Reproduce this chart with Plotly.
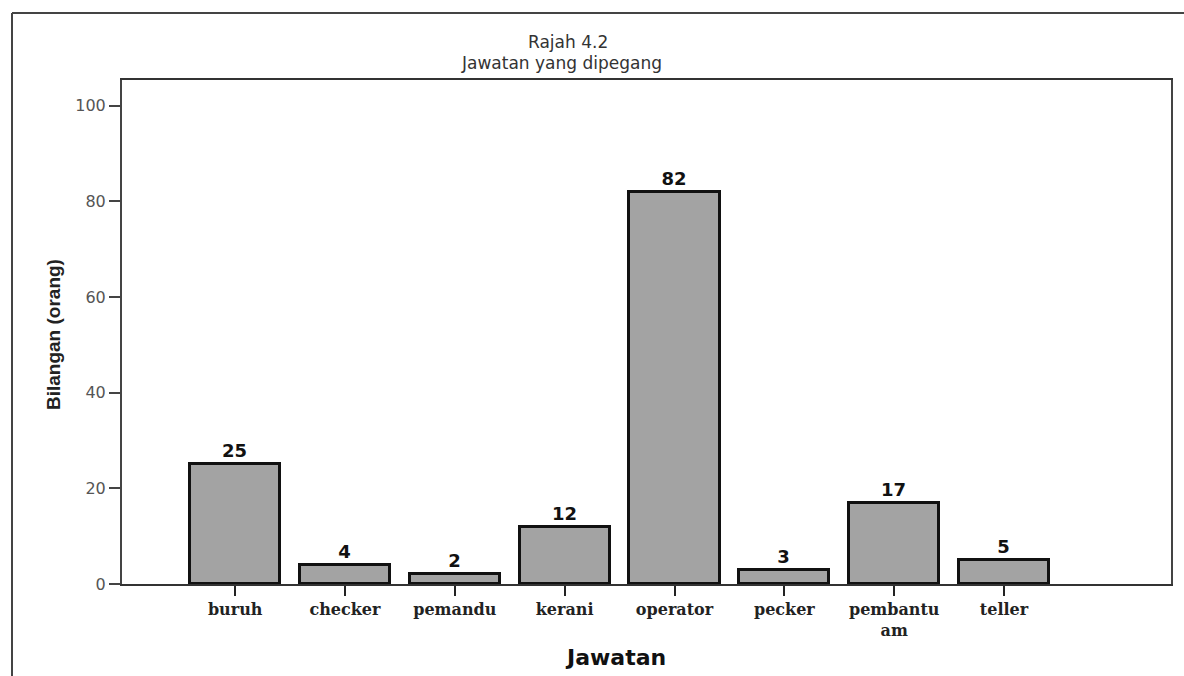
import plotly.graph_objects as go

categories = ["buruh", "checker", "pemandu", "kerani", "operator", "pecker", "pembantu am", "teller"]
tick_labels = ["buruh", "checker", "pemandu", "kerani", "operator", "pecker", "pembantu<br>am", "teller"]
values = [25, 4, 2, 12, 82, 3, 17, 5]
y_ticks = [0, 20, 40, 60, 80, 100]

W, H = 1184, 676
L, R, T, B = 122, 13, 80, 92
pw, ph = W - L - R, H - T - B

def px(x):
    return (x - L) / pw

def py(y):
    return (H - B - y) / ph

fig = go.Figure()
fig.add_trace(go.Bar(
    x=list(range(len(categories))),
    y=values,
    width=0.82,
    marker=dict(color="#a3a3a3", line=dict(color="#111111", width=3)),
    text=values,
    textposition="outside",
    textfont=dict(family="DejaVu Sans", size=18, color="#111111", weight="bold"),
    cliponaxis=False,
    hoverinfo="skip",
))

fig.update_layout(
    width=W, height=H,
    margin=dict(l=L, r=R, t=T, b=B),
    paper_bgcolor="white",
    plot_bgcolor="white",
    showlegend=False,
    bargap=0,
    font=dict(family="DejaVu Sans", color="#222"),
)

fig.update_xaxes(
    range=[-1.03, 8.52],
    tickmode="array",
    tickvals=list(range(len(categories))),
    ticktext=tick_labels,
    ticks="outside", ticklen=10, tickwidth=2, tickcolor="#222",
    tickfont=dict(family="DejaVu Serif", size=16, color="#222", weight="bold"),
    showline=True, linecolor="#333", linewidth=2, mirror=True,
    showgrid=False, zeroline=False,
)
fig.update_yaxes(
    range=[0, 105.4],
    tickmode="array",
    tickvals=y_ticks,
    ticks="outside", ticklen=11, tickwidth=1.5, tickcolor="#444",
    tickfont=dict(family="DejaVu Sans", size=16, color="#555"),
    showline=True, linecolor="#444", linewidth=2, mirror=True,
    showgrid=False, zeroline=False,
)

# titles
fig.add_annotation(x=px(568), y=py(42), xref="paper", yref="paper",
                   text="Rajah 4.2", showarrow=False,
                   font=dict(family="DejaVu Sans", size=17, color="#333"), xanchor="center", yanchor="middle")
fig.add_annotation(x=px(561), y=py(63), xref="paper", yref="paper",
                   text="Jawatan yang dipegang", showarrow=False,
                   font=dict(family="DejaVu Sans", size=17, color="#333"), xanchor="center", yanchor="middle")
fig.add_annotation(x=px(53), y=py(335), xref="paper", yref="paper",
                   text="Bilangan (orang)", showarrow=False, textangle=-90,
                   font=dict(family="Liberation Sans", size=19, color="#222", weight="bold"), xanchor="center", yanchor="middle")
fig.add_annotation(x=px(615), y=py(657), xref="paper", yref="paper",
                   text="Jawatan", showarrow=False,
                   font=dict(family="DejaVu Sans", size=22, color="#111", weight="bold"), xanchor="center", yanchor="middle")

# outer frame lines (top and left)
fig.add_shape(type="line", xref="paper", yref="paper",
              x0=px(12), x1=px(1184), y0=py(13), y1=py(13),
              line=dict(color="#444", width=2))
fig.add_shape(type="line", xref="paper", yref="paper",
              x0=px(12), x1=px(12), y0=py(13), y1=py(676),
              line=dict(color="#444", width=2))

fig.write_html("out.html", config={"displayModeBar": False},
               post_script="document.body.style.margin='0';document.body.style.overflow='hidden';")
